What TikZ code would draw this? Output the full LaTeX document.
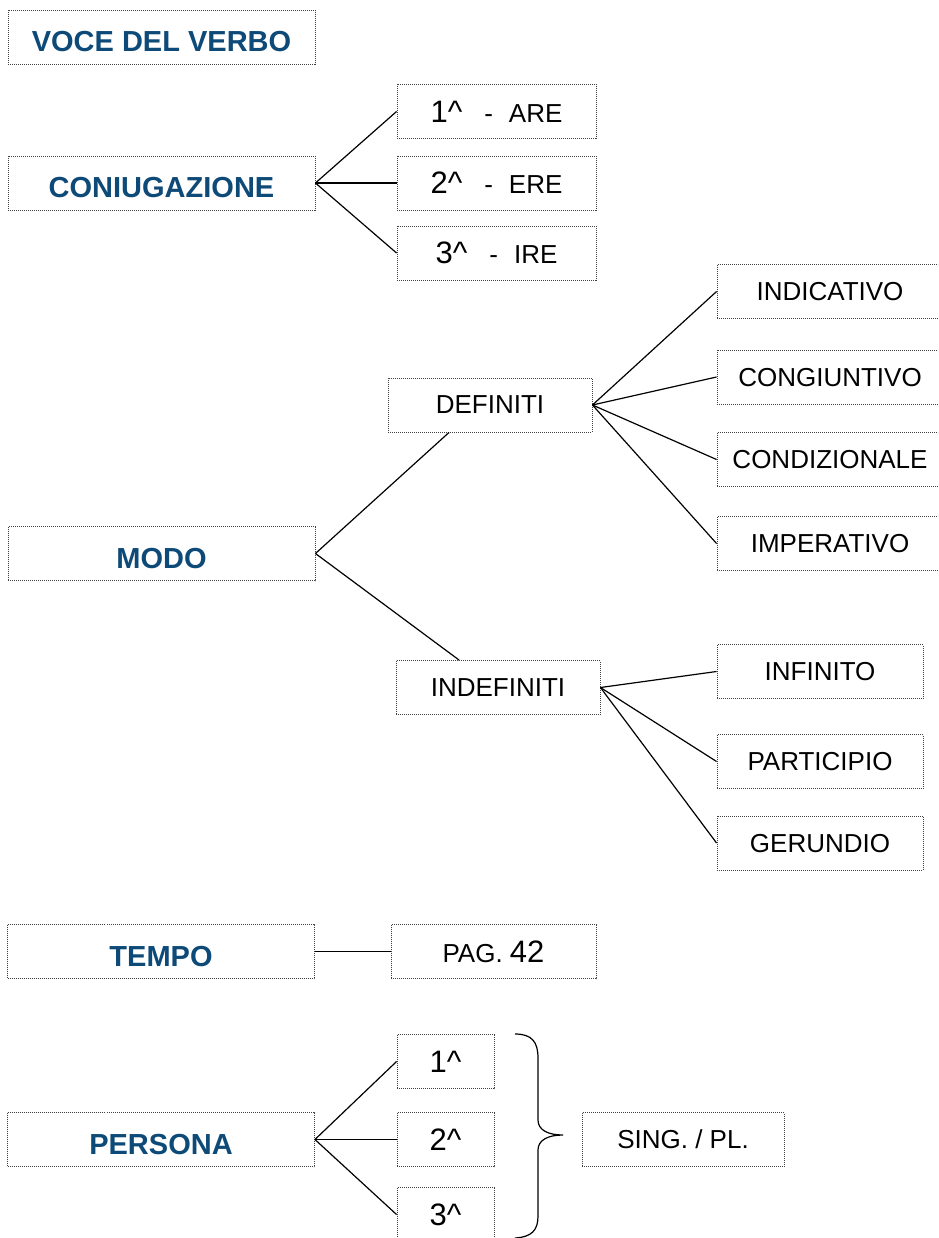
\documentclass[tikz,border=0pt]{standalone}
\usepackage{fontspec}
\setmainfont{Liberation Sans}
\usetikzlibrary{calc}
\definecolor{titblue}{RGB}{14,74,120}

\begin{document}
\begin{tikzpicture}[x=1pt,y=-1pt,line width=1.2pt,
   box/.style={draw=black!75,dash pattern=on 1pt off 1pt,line width=0.9pt,
      minimum height=54pt,inner sep=0pt,text depth=0pt},
   head/.style={box,minimum width=307pt,text=titblue,text height=29pt,
      font=\fontsize{29}{31}\selectfont\bfseries},
   item/.style={box,font=\fontsize{26}{28}\selectfont}]
   \useasboundingbox (0,0) rectangle (938,1238);
   \clip (0,0) rectangle (938,1238);
   \def\big#1{{\fontsize{31}{33}\selectfont #1}}
   % headings
   \node[head] (voce) at (161.5,37.5) {VOCE DEL VERBO};
   \node[head] (coniug) at (161.5,183) {CONIUGAZIONE};
   \node[head] (modo) at (161.5,553.5) {MODO};
   \node[head] (tempo) at (161,951.5) {TEMPO};
   \node[head] (persona) at (161,1139.5) {PERSONA};
   % coniugazione
   \node[item,minimum width=199pt] (c1) at (496.5,111.5) {\big{1\textasciicircum}\hspace{22pt}-\hspace{16pt}ARE};
   \node[item,minimum width=199pt] (c2) at (496.5,183) {\big{2\textasciicircum}\hspace{22pt}-\hspace{16pt}ERE};
   \node[item,minimum width=199pt] (c3) at (496.5,253) {\big{3\textasciicircum}\hspace{22pt}-\hspace{16pt}IRE};
   \draw (coniug.east) -- (c1.west);
   \draw (coniug.east) -- (c2.west);
   \draw (coniug.east) -- (c3.west);
   % modo
   \node[item,minimum width=204pt] (def) at (490,405) {DEFINITI};
   \node[item,minimum width=204pt] (indef) at (498,687.5) {INDEFINITI};
   \node[item,minimum width=226pt] (indic) at (830,291.5) {INDICATIVO};
   \node[item,minimum width=226pt] (congiunt) at (830,377) {CONGIUNTIVO};
   \node[item,minimum width=226pt] (condiz) at (830,459.5) {CONDIZIONALE};
   \node[item,minimum width=226pt] (imper) at (830,543.5) {IMPERATIVO};
   \node[item,minimum width=206pt] (infin) at (820,671.5) {INFINITO};
   \node[item,minimum width=206pt] (partic) at (820,761.5) {PARTICIPIO};
   \node[item,minimum width=206pt] (gerund) at (820,843) {GERUNDIO};
   \draw (modo.east) -- ($(def.south west)!.3!(def.south east)$);
   \draw (modo.east) -- ($(indef.north west)!.31!(indef.north east)$);
   \draw (def.east) -- (indic.west);
   \draw (def.east) -- (congiunt.west);
   \draw (def.east) -- (condiz.west);
   \draw (def.east) -- (imper.west);
   \draw (indef.east) -- (infin.west);
   \draw (indef.east) -- (partic.west);
   \draw (indef.east) -- (gerund.west);
   % tempo
   \node[item,minimum width=205pt] (pag) at (493.5,951.5) {PAG. \big{42}};
   \draw (tempo.east) -- (pag.west);
   % persona
   \node[item,minimum width=97pt] (p1) at (445.5,1061.5) {\big{1\textasciicircum}};
   \node[item,minimum width=97pt] (p2) at (445.5,1139.5) {\big{2\textasciicircum}};
   \node[item,minimum width=97pt] (p3) at (445.5,1214.5) {\big{3\textasciicircum}};
   \node[item,minimum width=202pt] (sing) at (683,1139.5) {SING. / PL.};
   \draw (persona.east) -- (p1.west);
   \draw (persona.east) -- (p2.west);
   \draw (persona.east) -- (p3.west);
   \draw (515,1034) .. controls (532,1034) and (538,1042) .. (538,1058) -- (538,1120)
      .. controls (538,1130) and (548,1135) .. (563,1135)
      .. controls (548,1135) and (538,1140) .. (538,1150) -- (538,1216)
      .. controls (538,1230) and (532,1237) .. (515,1238);
\end{tikzpicture}
\end{document}
